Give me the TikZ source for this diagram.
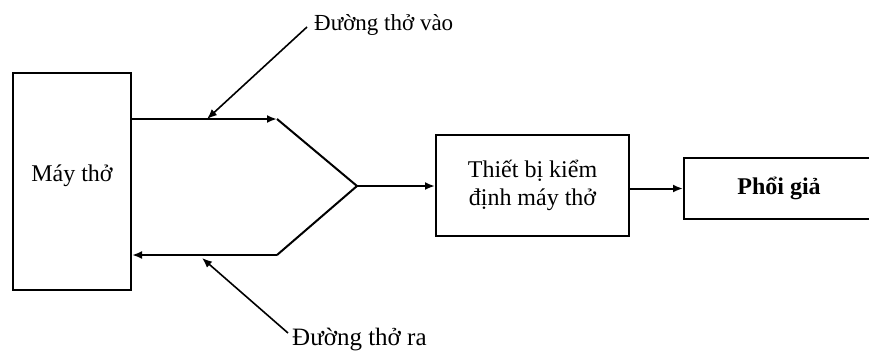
\documentclass[tikz,border=0pt]{standalone}
\usepackage{fontspec}
\setmainfont{Liberation Serif}
\usepackage{tikz}
\usetikzlibrary{shapes,arrows,arrows.meta}
\tikzstyle{block} = [draw, fill=white, rectangle, line width=2pt, inner sep=0pt, align=center, font=\fontsize{24}{28}\selectfont]
\tikzstyle{lbl} = [inner sep=0pt, anchor=west, font=\fontsize{23}{26}\selectfont]
\tikzstyle{flow} = [line width=2pt, -{Latex[length=10pt,width=8pt]}]

\begin{document}
\begin{tikzpicture}[x=1pt, y=-1pt]
		\clip (0,0) rectangle (869,351);
		\node [block, minimum width=118pt, minimum height=217pt, text depth=16pt] (vent) at (72,181) {Máy thở};
		\node [block, minimum width=193pt, minimum height=101pt] (tester) at (532.5,185.5) {Thiết bị kiểm\\định máy thở};
		\node [block, minimum width=190pt, minimum height=61pt, font=\fontsize{24}{28}\selectfont\bfseries] (lung) at (779,188.5) {Phổi giả};

		\coordinate (inA) at (277,119);
		\coordinate (junc) at (357,186);
		\coordinate (outA) at (277,255);
		\coordinate (inP) at (207,119);
		\coordinate (outP) at (202,258);
		\coordinate (inS) at (307,27);
		\coordinate (outS) at (288,333);

		\draw [flow] (vent.east |- inA) -- (inA);
		\draw [line width=2pt] (inA) -- (junc) -- (outA);
		\draw [flow] (outA) -- (vent.east |- outA);
		\draw [flow] (junc) -- (tester.west |- junc);
		\draw [flow] (tester.east |- lung) -- (lung.west);

		\node [lbl] (inlbl) at (314,25) {Đường thở vào};
		\node [lbl, font=\fontsize{25}{28}\selectfont] (outlbl) at (292,339) {Đường thở ra};
		\draw [flow, line width=1.6pt] (inS) -- (inP);
		\draw [flow, line width=1.6pt] (outS) -- (outP);
\end{tikzpicture}
\end{document}
